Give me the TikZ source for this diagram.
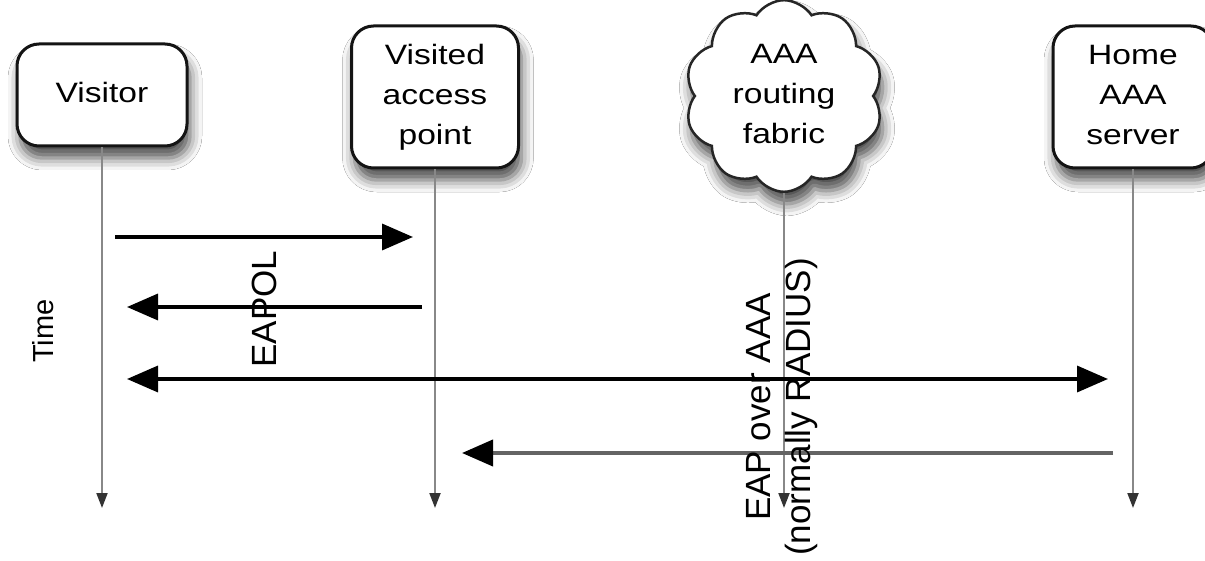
\documentclass[tikz,border=0pt]{standalone}
\usepackage{fontspec}
\setmainfont{Liberation Sans}
\usepackage{graphicx}
\usetikzlibrary{shapes.symbols,arrows.meta,shadows.blur}
\definecolor{lifegray}{RGB}{136,136,136}
\definecolor{msggrey}{RGB}{100,100,100}
\newcommand{\boxtxt}[1]{\raisebox{-4pt}{\scalebox{1.2}[1]{\fontsize{28}{40}\selectfont\begin{tabular}{@{}c@{}}#1\end{tabular}}}}
\begin{document}
\begin{tikzpicture}[x=1pt,y=-1pt,
  shade/.style={blur shadow={shadow xshift=3pt,shadow yshift=-12pt,shadow blur radius=12pt,shadow opacity=70}},
  actor/.style={draw=black!92,line width=3pt,fill=white,rounded corners=22pt,inner sep=0pt,shade},
  fabric/.style={cloud,cloud puffs=10,cloud puff arc=115,aspect=1.05,draw=black!85,line width=2.5pt,fill=white,inner sep=0pt,shade},
  life/.style={draw=lifegray,line width=2pt,-{Triangle[length=15pt,width=11pt,color=black!80]}},
  msg/.style={draw=black,line width=3.5pt,-{Triangle[length=31pt,width=26pt]}},
  msgboth/.style={draw=black,line width=3.5pt,{Triangle[length=31pt,width=26pt]}-{Triangle[length=31pt,width=26pt]}},
  msggray/.style={draw=msggrey,line width=4pt,-{Triangle[length=31pt,width=26pt,color=black]}},
  lbl/.style={rotate=90,inner sep=0pt,align=center,text=black}
]
\useasboundingbox[fill=white] (0,0) rectangle (1205,561);

% actors
\node[actor,minimum width=170pt,minimum height=102pt] (visitor) at (102,95) {\boxtxt{Visitor}};
\node[actor,minimum width=167pt,minimum height=142pt] (ap) at (435,97) {\boxtxt{Visited\\access\\point}};
\node[fabric,minimum width=185pt,minimum height=175pt] (cloud) at (784,96) {\boxtxt{AAA\\routing\\fabric}};
\node[actor,minimum width=160pt,minimum height=142pt] (home) at (1133,97) {\boxtxt{Home\\AAA\\server}};

% lifeline ends
\coordinate (vend) at (102,508);
\coordinate (apend) at (435,508);
\coordinate (cend) at (784,508);
\coordinate (hend) at (1133,508);

\draw[life] (visitor.south) -- (vend);
\draw[life] (ap.south) -- (apend);
\draw[life] (cloud.south) -- (cend);
\draw[life] (home.south) -- (hend);

% message end points
\coordinate (m1a) at (115,237);
\coordinate (m1b) at (413,237);
\coordinate (m2a) at (422,307);
\coordinate (m2b) at (127,307);
\coordinate (m3a) at (127,379);
\coordinate (m3b) at (1108,379);
\coordinate (m4a) at (1113,453);
\coordinate (m4b) at (462,453);

\draw[msg] (m1a) -- (m1b);
\draw[msg] (m2a) -- (m2b);
\draw[msgboth] (m3a) -- (m3b);
\draw[msggray] (m4a) -- (m4b);

% labels
\node[lbl,font=\fontsize{29}{34}\selectfont] (time) at (43,331) {Time};
\node[lbl,font=\fontsize{35}{40}\selectfont] (eapol) at (264,309) {EAPOL};
\node[lbl,font=\fontsize{35}{40}\selectfont] (eap) at (782,407) {EAP over AAA\\(normally RADIUS)};
\end{tikzpicture}
\end{document}
